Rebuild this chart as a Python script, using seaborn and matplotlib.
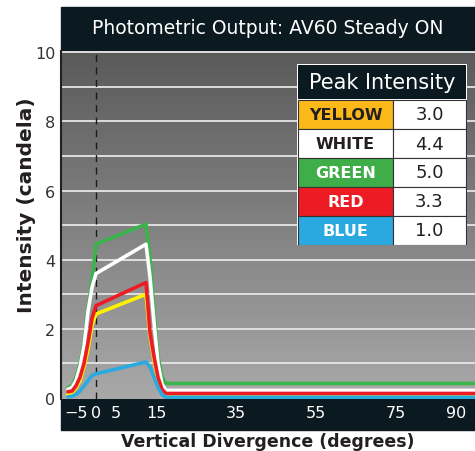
import numpy as np
import pandas as pd
import seaborn as sns
import matplotlib.pyplot as plt
from matplotlib.patches import Rectangle
from matplotlib.colors import LinearSegmentedColormap

# 데이터
angle = [-7, -6, -5, -4, -3, -2, -1, 0, 12.5, 13.5, 14.5, 15.5, 16.5, 17.5, 95]
green = [0.3, 0.35, 0.6, 1.0, 1.6, 2.6, 3.4, 4.45, 5.03, 4.0, 2.5, 1.2, 0.6, 0.42, 0.42]
white = [0.25, 0.3, 0.5, 0.9, 1.5, 2.5, 3.2, 3.6, 4.45, 3.5, 2.2, 1.0, 0.4, 0.22, 0.22]
red = [0.18, 0.2, 0.35, 0.6, 1.0, 1.6, 2.3, 2.67, 3.34, 1.9, 1.2, 0.6, 0.25, 0.13, 0.13]
yellow = [0.1, 0.15, 0.3, 0.5, 0.9, 1.4, 2.1, 2.43, 3.0, 1.8, 1.1, 0.5, 0.2, 0.08, 0.08]
blue = [0.03, 0.05, 0.1, 0.2, 0.35, 0.5, 0.65, 0.7, 1.04, 0.9, 0.6, 0.3, 0.1, 0.02, 0.02]

names = ['YELLOW', 'WHITE', 'GREEN', 'RED', 'BLUE']
peaks = ['3.0', '4.4', '5.0', '3.3', '1.0']
xticks = [-5, 0, 5, 15, 35, 55, 75, 90]

line_colors = {'YELLOW': '#fff200', 'WHITE': '#ffffff', 'GREEN': '#39b54a',
               'RED': '#ed1c24', 'BLUE': '#29abe2'}
cell_colors = {'YELLOW': '#fbb919', 'WHITE': '#ffffff', 'GREEN': '#3fae49',
               'RED': '#ed1c24', 'BLUE': '#29a9e0'}
text_colors = {'YELLOW': '#231f20', 'WHITE': '#231f20', 'GREEN': 'white',
               'RED': 'white', 'BLUE': 'white'}
dark = '#0b1920'

series = {'YELLOW': yellow, 'WHITE': white, 'GREEN': green, 'RED': red, 'BLUE': blue}
df = pd.concat([pd.DataFrame({'angle': angle, 'value': v, 'color': k})
                for k, v in series.items()])

sns.set_style('white')
plt.rcParams['font.family'] = ['DejaVu Sans']

fig = plt.figure(figsize=(4.75, 4.52), dpi=100)

# 제목 띠와 아래 띠 (축 뒤에 그림)
band = fig.add_axes([0, 0, 1, 1], zorder=0)
band.set_xlim(0, 475)
band.set_ylim(452, 0)
band.axis('off')
band.add_patch(Rectangle((61, 8), 414, 43, color=dark))
band.add_patch(Rectangle((61, 400), 414, 31, color=dark))
band.text(268, 29, 'Photometric Output: AV60 Steady ON', color='white',
          fontsize=13.5, ha='center', va='center')

ax = fig.add_axes([61 / 475, 52 / 452, 414 / 475, 348 / 452], zorder=2)
ax.patch.set_alpha(0)

# 배경 그라데이션
cmap = LinearSegmentedColormap.from_list('bg', ['#a9a9a9', '#5a5a5a'])
ax.imshow(np.linspace(0, 1, 256).reshape(-1, 1), extent=[-8.75, 94.75, -0.03, 10.04],
          origin='lower', cmap=cmap, aspect='auto', zorder=0)

for y in range(1, 11):
    ax.axhline(y, color='#e6e6e6', lw=1.3, zorder=1)
ax.axvline(0, color='#1a1a1a', lw=1, ls=(0, (5, 4)), zorder=1)

# 그리는 순서: 뒤에서 앞으로
for k in ['GREEN', 'WHITE', 'YELLOW', 'RED', 'BLUE']:
    sns.lineplot(data=df[df['color'] == k], x='angle', y='value', color=line_colors[k],
                 lw=2.6, ax=ax, zorder=3, legend=False)

ax.set_xlim(-8.75, 94.75)
ax.set_ylim(-0.03, 10.04)
ax.set_xticks(xticks)
ax.set_yticks([0, 2, 4, 6, 8, 10])
ax.tick_params(axis='x', colors='white', labelsize=11.5, length=0, pad=4)
ax.tick_params(axis='y', colors='#333333', labelsize=11.5, length=0, pad=4)
for s in ['top', 'right', 'bottom']:
    ax.spines[s].set_visible(False)
ax.spines['left'].set_color('#222222')
ax.spines['left'].set_linewidth(1.5)
ax.set_xlabel('Vertical Divergence (degrees)', fontsize=12.5, color='#231f20',
              fontweight='bold', labelpad=9)
ax.set_ylabel('Intensity (candela)', fontsize=14.5, color='#231f20', fontweight='bold')
ax.yaxis.set_label_coords(-0.06, 0.56)

# 피크 강도 표
tab = fig.add_axes([297 / 475, 206 / 452, 170 / 475, 181 / 452], zorder=4)
tab.set_xlim(0, 170)
tab.set_ylim(181, 0)
tab.axis('off')
tab.add_patch(Rectangle((0, 0), 170, 181, facecolor='white', edgecolor='white', lw=2))
tab.add_patch(Rectangle((1, 1), 168, 34, facecolor=dark, edgecolor='none'))
tab.text(85, 18, 'Peak Intensity', color='white', fontsize=15, ha='center', va='center')
rh = (181 - 36) / 5
for i, (n, p) in enumerate(zip(names, peaks)):
    y0 = 36 + i * rh
    tab.add_patch(Rectangle((1, y0), 95, rh, facecolor=cell_colors[n],
                            edgecolor='#333333', lw=0.8))
    tab.add_patch(Rectangle((96, y0), 73, rh, facecolor='white',
                            edgecolor='#333333', lw=0.8))
    tab.text(48.5, y0 + rh / 2, n, color=text_colors[n], fontsize=11.5,
             fontweight='bold', ha='center', va='center')
    tab.text(132.5, y0 + rh / 2, p, color='#231f20', fontsize=13, ha='center', va='center')

fig.savefig('out.png', dpi=100)
